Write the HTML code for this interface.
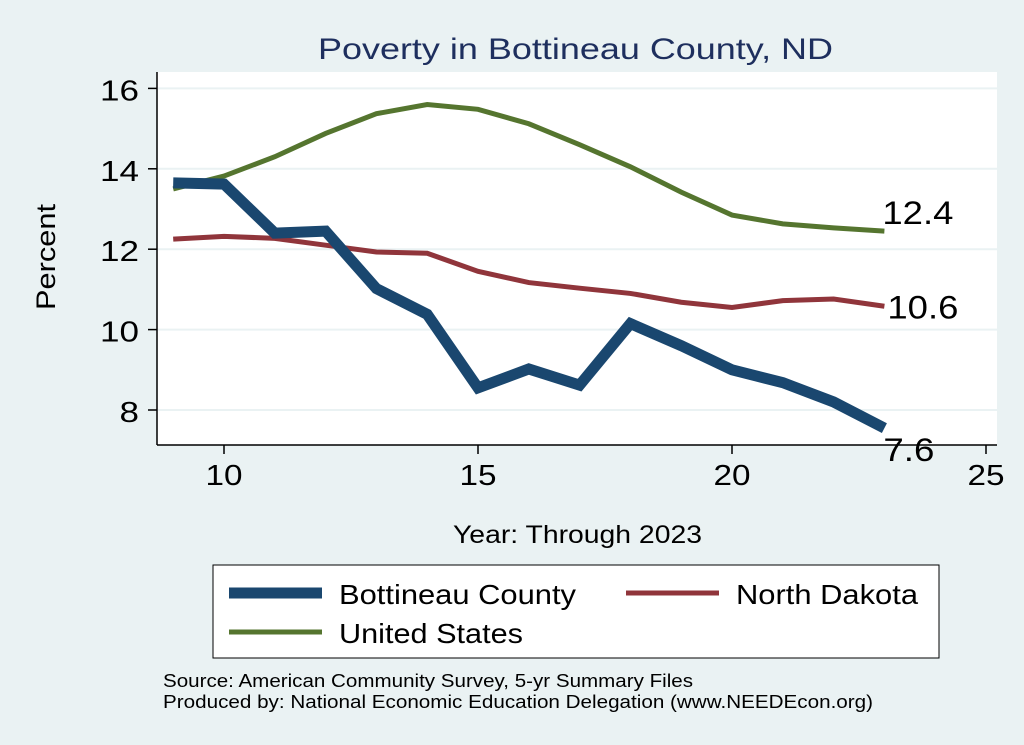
<!DOCTYPE html>
<html><head><meta charset="utf-8"><style>
body{margin:0;background:#eaf2f3;}
svg{display:block;font-family:"Liberation Sans",Arial,sans-serif;}
</style></head><body>
<svg id="chart" width="1024" height="745" viewBox="0 0 1024 745">
<rect x="0" y="0" width="1024" height="745" fill="#eaf2f3"/>
<rect x="157" y="72" width="840" height="373" fill="#ffffff"/>
<text x="318" y="59" font-size="30" textLength="515" lengthAdjust="spacingAndGlyphs" fill="#1e2f5e">Poverty in Bottineau County, ND</text>
<g id="grid"></g>
<g id="axes"></g>
<g id="series"></g>
<text x="55" y="257" text-anchor="middle" font-size="27" textLength="106" lengthAdjust="spacingAndGlyphs" transform="rotate(-90 55 257)">Percent</text>
<text x="453" y="543" font-size="25" textLength="249" lengthAdjust="spacingAndGlyphs">Year: Through 2023</text>
<g>
<rect x="213" y="565" width="726" height="93" fill="#ffffff" stroke="#000" stroke-width="1"/>
<line x1="229" y1="593" x2="322" y2="593" stroke="#1a476f" stroke-width="11"/>
<text x="339" y="604" font-size="28" textLength="237" lengthAdjust="spacingAndGlyphs">Bottineau County</text>
<line x1="626" y1="593" x2="719" y2="593" stroke="#90353b" stroke-width="5"/>
<text x="736" y="604" font-size="28" textLength="182" lengthAdjust="spacingAndGlyphs">North Dakota</text>
<line x1="229" y1="632" x2="322" y2="632" stroke="#55752f" stroke-width="5"/>
<text x="339" y="643" font-size="28" textLength="184" lengthAdjust="spacingAndGlyphs">United States</text>
</g>
<text x="163" y="687" font-size="18" textLength="530" lengthAdjust="spacingAndGlyphs">Source: American Community Survey, 5-yr Summary Files</text>
<text x="163" y="708" font-size="18" textLength="710" lengthAdjust="spacingAndGlyphs">Produced by: National Economic Education Delegation (www.NEEDEcon.org)</text>
</svg>
<script>
const years=[9,10,11,12,13,14,15,16,17,18,19,20,21,22,23];
const bottineau=[13.65,13.62,12.4,12.45,11.02,10.38,8.55,9.02,8.62,10.15,9.6,9.0,8.68,8.2,7.55];
const northDakota=[12.25,12.32,12.27,12.1,11.93,11.9,11.45,11.17,11.03,10.9,10.68,10.55,10.72,10.76,10.58];
const unitedStates=[13.5,13.82,14.3,14.88,15.37,15.6,15.48,15.12,14.6,14.05,13.42,12.85,12.63,12.53,12.45];
const xTicks=[10,15,20,25];
const yTicks=[8,10,12,14,16];
const endLabels=["7.6","10.6","12.4"];
const NS="http://www.w3.org/2000/svg";
function X(v){return 224+(v-10)*50.8;}
function Y(v){return 410-(v-8)*40.2;}
function mk(tag,attrs,parent){const e=document.createElementNS(NS,tag);for(const k in attrs)e.setAttribute(k,attrs[k]);parent.appendChild(e);return e;}
const grid=document.getElementById('grid'),axes=document.getElementById('axes'),series=document.getElementById('series');
yTicks.forEach(t=>{
  const g=mk('line',{x1:158,x2:997,y1:Y(t),y2:Y(t),stroke:'#eaf2f3','stroke-width':2},grid);
  
  
  const tk=mk('line',{x1:148,x2:157,y1:Y(t),y2:Y(t),stroke:'#000','stroke-width':1.5},axes);
  
  
  const s=String(t);
  const tx=mk('text',{x:139,y:Y(t)+12,'text-anchor':'end','font-size':29,textLength:s.length*19.5,lengthAdjust:'spacingAndGlyphs'},axes);
  tx.textContent=s;
  
  
});
xTicks.forEach(t=>{
  const tk=mk('line',{x1:X(t),x2:X(t),y1:445,y2:454,stroke:'#000','stroke-width':1.5},axes);
  
  
  const tx=mk('text',{x:X(t)-18.5,y:485,'font-size':29,textLength:37,lengthAdjust:'spacingAndGlyphs'},axes);
  tx.textContent=t;
  
  
});
const ya=mk('line',{x1:157,x2:157,y1:72,y2:445,stroke:'#000','stroke-width':1.5},axes);


const xa=mk('line',{x1:157,x2:997,y1:445,y2:445,stroke:'#000','stroke-width':1.5},axes);


function line(vals,color,w,name){
  const p=mk('polyline',{points:vals.map((v,i)=>X(years[i])+','+Y(v)).join(' '),fill:'none',stroke:color,'stroke-width':w,'stroke-linejoin':'miter'},series);
  
  
}
line(northDakota,'#90353b',5,'line-north-dakota');
line(unitedStates,'#55752f',5,'line-united-states');
line(bottineau,'#1a476f',11,'line-bottineau');
const last=years.length-1;
[[bottineau,endLabels[0],33,-1,51],[northDakota,endLabels[1],12,3,71],[unitedStates,endLabels[2],-7,-2,71]].forEach(([s,l,dy,dx,w])=>{
  const t=mk('text',{x:X(years[last])+dx,y:Y(s[last])+dy,'font-size':32,textLength:w,lengthAdjust:'spacingAndGlyphs'},series);
  t.textContent=l;
  
  
});
</script>
</body></html>
